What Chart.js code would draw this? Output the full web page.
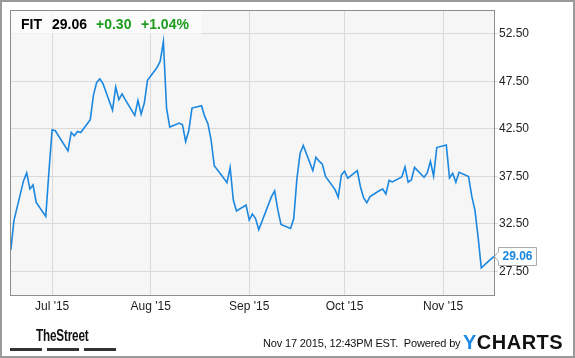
<!DOCTYPE html>
<html>
<head>
<meta charset="utf-8">
<script src="https://cdn.jsdelivr.net/npm/chart.js@4"></script>
<style>
  body { margin: 0; background: #fff; }
  #wrap { position: relative; width: 575px; height: 358px; overflow: hidden; font-family: "Liberation Sans", Arial, sans-serif; }
  #wrap canvas { position: absolute; left: 0; top: 0; }
  .frame { position: absolute; left: 0; top: 0; width: 575px; height: 358px; box-sizing: border-box; border: 2px solid #9a9a9a; pointer-events: none; }
  .hdr { position: absolute; top: 17px; font-size: 14px; line-height: 14px; font-weight: bold; white-space: nowrap; }
  .up { color: #1c9c1c; }
  .street { position: absolute; left: 36px; top: 328px; font-size: 16px; line-height: 16px; font-weight: bold; color: #111; transform: scaleX(0.73); transform-origin: left top; white-space: nowrap; letter-spacing: -0.2px; }
  .bar { position: absolute; top: 348px; height: 3px; background: #333; }
  .stamp { position: absolute; left: 263px; top: 338px; font-size: 11px; line-height: 11px; color: #111; white-space: nowrap; letter-spacing: -0.15px; }
  .ycharts { position: absolute; left: 463px; top: 332px; font-size: 20px; line-height: 20px; font-weight: bold; color: #111; white-space: nowrap; letter-spacing: 0.5px; }
  .ycharts span { color: #1a8ae6; }
</style>
</head>
<body>
<div id="wrap">
  <canvas id="chart" width="575" height="358"></canvas>
  <div class="hdr" style="left:21px">FIT</div>
  <div class="hdr" style="left:52px">29.06</div>
  <div class="hdr up" style="left:96px">+0.30</div>
  <div class="hdr up" style="left:141px">+1.04%</div>
  <div class="street">TheStreet</div>
  <div class="bar" style="left:10px;width:32px"></div>
  <div class="bar" style="left:47px;width:32px"></div>
  <div class="bar" style="left:84px;width:32px"></div>
  <div class="stamp">Nov 17 2015, 12:43PM EST.&nbsp; Powered by</div>
  <div class="ycharts"><span>Y</span>CHARTS</div>
  <div class="frame"></div>
</div>
<script>
// Trading days (2015) and FIT closing prices
const dates = [
  '06-18', '06-19', '06-22', '06-23', '06-24', '06-25', '06-26', '06-29', '06-30',
  '07-01', '07-02', '07-06', '07-07', '07-08', '07-09', '07-10',
  '07-13', '07-14', '07-15', '07-16', '07-17', '07-20', '07-21', '07-22', '07-23', '07-24',
  '07-27', '07-28', '07-29', '07-30', '07-31',
  '08-03', '08-04', '08-05', '08-06', '08-07', '08-10', '08-11', '08-12', '08-13', '08-14',
  '08-17', '08-18', '08-19', '08-20', '08-21', '08-24', '08-25', '08-26', '08-27', '08-28',
  '08-31', '09-01', '09-02', '09-03', '09-04', '09-08', '09-09', '09-10', '09-11',
  '09-14', '09-15', '09-16', '09-17', '09-18', '09-21', '09-22', '09-23', '09-24', '09-25',
  '09-28', '09-29', '09-30', '10-01', '10-02', '10-05', '10-06', '10-07', '10-08', '10-09',
  '10-12', '10-13', '10-14', '10-15', '10-16', '10-19', '10-20', '10-21', '10-22', '10-23',
  '10-26', '10-27', '10-28', '10-29', '10-30', '11-02', '11-03', '11-04', '11-05', '11-06',
  '11-09', '11-10', '11-11', '11-12', '11-13', '11-16', '11-17'
];
const closes = [
  29.72, 32.85, 37.01, 37.85, 36.16, 36.58, 34.74, 33.28, 37.99,
  42.39, 42.29, 40.17, 42.11, 41.76, 42.21, 42.11,
  43.45, 46.04, 47.36, 47.75, 47.25, 44.45, 46.90, 45.56, 46.17, 45.57,
  43.90, 45.49, 44.05, 45.21, 47.60,
  48.94, 49.61, 51.66, 44.68, 42.68, 43.10, 42.92, 41.16, 42.32, 44.68,
  44.93, 43.80, 43.03, 41.34, 38.62, 37.29, 36.83, 38.41, 35.00, 33.84,
  34.47, 32.89, 33.52, 33.05, 31.86, 35.35, 35.95, 33.96, 32.43,
  32.01, 33.02, 37.24, 39.89, 40.73, 38.09, 39.49, 39.09, 38.77, 37.48,
  36.09, 35.28, 37.64, 38.03, 37.29, 38.08, 36.37, 35.21, 34.71, 35.35,
  36.00, 36.16, 35.63, 37.06, 36.90, 37.43, 38.48, 36.87, 37.11, 38.43,
  37.40, 37.85, 39.07, 37.53, 40.52, 40.78, 37.32, 37.82, 36.87, 37.92,
  37.46, 35.40, 33.94, 31.10, 27.87, 28.77, 29.06
];

// Month ticks on the x axis
const monthStarts = ['07-01', '08-01', '09-01', '10-01', '11-01'];
const monthLabels = ["Jul '15", "Aug '15", "Sep '15", "Oct '15", "Nov '15"];

// Price ticks on the right axis
const priceTicks = [27.5, 32.5, 37.5, 42.5, 47.5, 52.5];

// Day of the year for a 'MM-DD' string in 2015
function dayOfYear(md) {
    const [m, d] = md.split('-').map(Number);
    return (Date.UTC(2015, m - 1, d) - Date.UTC(2015, 0, 1)) / 864e5 + 1;
}

const points = dates.map((d, i) => ({ x: dayOfYear(d), y: closes[i] }));
const monthDays = monthStarts.map(dayOfYear);

const fontFamily = '"Liberation Sans", Arial, sans-serif';
const lineBlue = '#1a87e0';

// Plot background, header strip, frame and last-price label
const decorations = {
    id: 'decorations',
    beforeDraw(chart) {
        const { ctx, chartArea: a } = chart;
        ctx.save();
        ctx.fillStyle = '#f6f6f6';
        ctx.fillRect(a.left, a.top, a.right - a.left, a.bottom - a.top);
        ctx.restore();
    },
    beforeDatasetsDraw(chart) {
        const { ctx, chartArea: a } = chart;
        ctx.save();
        ctx.fillStyle = 'rgba(255,255,255,0.6)';
        ctx.fillRect(a.left + 1, a.top + 1, 190, 23);
        ctx.restore();
    },
    afterDatasetsDraw(chart) {
        const { ctx, chartArea: a } = chart;
        ctx.save();
        ctx.strokeStyle = '#8c8c8c';
        ctx.lineWidth = 1;
        ctx.strokeRect(a.left + 0.5, a.top + 0.5, a.right - a.left, a.bottom - a.top);

        // label for the last close
        const meta = chart.getDatasetMeta(0);
        const last = meta.data[meta.data.length - 1];
        const px = Math.round(last.x) + 0.5;
        const py = Math.round(last.y) + 0.5;
        const bx = px + 4, bw = 38, bh = 18, by = py - 9;
        ctx.beginPath();
        ctx.moveTo(px, py);
        ctx.lineTo(bx, by + 4);
        ctx.lineTo(bx, by);
        ctx.lineTo(bx + bw, by);
        ctx.lineTo(bx + bw, by + bh);
        ctx.lineTo(bx, by + bh);
        ctx.lineTo(bx, by + bh - 4);
        ctx.closePath();
        ctx.fillStyle = '#fff';
        ctx.fill();
        ctx.strokeStyle = '#aaa';
        ctx.stroke();
        ctx.fillStyle = lineBlue;
        ctx.font = 'bold 12px ' + fontFamily;
        ctx.textAlign = 'center';
        ctx.textBaseline = 'middle';
        ctx.fillText(closes[closes.length - 1].toFixed(2), bx + bw / 2, py + 0.5);
        ctx.restore();
    }
};

new Chart(document.getElementById('chart'), {
    type: 'line',
    data: {
        datasets: [{
            data: points,
            borderColor: lineBlue,
            borderWidth: 1.6,
            pointRadius: 0,
            tension: 0,
            fill: false
        }]
    },
    options: {
        responsive: false,
        animation: false,
        layout: { padding: { left: 10, top: 10, right: 0, bottom: 0 } },
        plugins: {
            legend: { display: false },
            tooltip: { enabled: false }
        },
        scales: {
            x: {
                type: 'linear',
                min: 168.75,
                max: 321,
                afterFit(scale) { scale.height = 63; },
                afterBuildTicks(scale) { scale.ticks = monthDays.map(v => ({ value: v })); },
                grid: { color: '#d9d9d9', drawTicks: false },
                border: { display: false },
                ticks: {
                    padding: 4,
                    color: '#222',
                    font: { family: fontFamily, size: 12 },
                    maxRotation: 0,
                    autoSkip: false,
                    callback: (v) => monthLabels[monthDays.indexOf(v)]
                }
            },
            y: {
                position: 'right',
                min: 25,
                max: 55,
                afterFit(scale) { scale.width = 81; },
                afterBuildTicks(scale) { scale.ticks = priceTicks.map(v => ({ value: v })); },
                grid: { color: '#d9d9d9', tickLength: 4 },
                border: { display: false },
                ticks: {
                    padding: 1,
                    color: '#222',
                    font: { family: fontFamily, size: 12 },
                    callback: (v) => v.toFixed(2)
                }
            }
        }
    },
    plugins: [decorations]
});
</script>
</body>
</html>
